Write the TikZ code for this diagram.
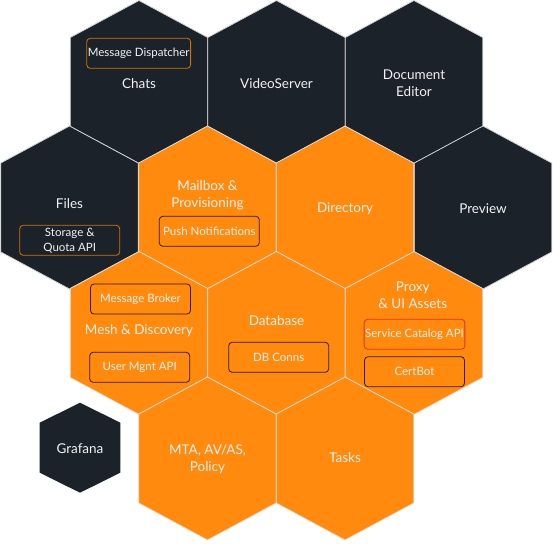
\documentclass[tikz,border=0pt]{standalone}
\usepackage{fontspec}
\setmainfont{Lato}
\definecolor{hexdark}{HTML}{1B2229}
\definecolor{hexorange}{HTML}{FF8A0D}
\definecolor{lineorange}{HTML}{D97100}
\definecolor{linedark}{HTML}{2B1C08}
\definecolor{linered}{HTML}{E5321E}
\tikzset{
	darkcell/.style={fill=hexdark, draw=gray!35, line width=0.8pt},
	orangecell/.style={fill=hexorange, draw=white!88!black, line width=0.8pt},
	lbl/.style={text=white!95!black, font=\fontsize{13.5}{17}\selectfont, align=center},
	svc/.style={rounded corners=3.5pt, minimum width=100pt, minimum height=30pt, inner sep=1pt,
		line width=0.8pt, text=white!95!black, font=\fontsize{11.5}{15}\selectfont, align=center},
	svcd/.style={svc, draw=lineorange, fill=hexdark},
	svco/.style={svc, draw=linedark, fill=hexorange},
	svcr/.style={svc, draw=linered, fill=hexorange},
}

\begin{document}
\begin{tikzpicture}[x=1pt, y=-1pt]
	\useasboundingbox (0,0) rectangle (553,546);

	% dark cells
	\foreach \x/\y in {139/82, 276.5/82, 414/82, 69.5/207.5, 483/207.5}
		\path[darkcell] (\x,\y) ++(0,-81.5) -- ++(68.75,37) -- ++(0,89) -- ++(-68.75,37) -- ++(-68.75,-37) -- ++(0,-89) -- cycle;

	% orange cells
	\foreach \x/\y in {207.5/207.5, 345/207.5, 139/333, 276.5/333, 414/333, 207.5/458.5, 345/458.5}
		\path[orangecell] (\x,\y) ++(0,-81.5) -- ++(68.75,37) -- ++(0,89) -- ++(-68.75,37) -- ++(-68.75,-37) -- ++(0,-89) -- cycle;

	% grafana
	\fill[hexdark] (80,447.7) ++(0,-45) -- ++(40.3,20) -- ++(0,50) -- ++(-40.3,20) -- ++(-40.3,-20) -- ++(0,-50) -- cycle;

	\node[svcd] (dispatch) at (138.7,53.3) {Message Dispatcher};
	\node[lbl] (chats) at (139,83.5) {Chats};
	\node[lbl] (video) at (276.5,83.5) {VideoServer};
	\node[lbl] (doc) at (414,83) {Document\\Editor};

	\node[lbl] (files) at (69.5,204) {Files};
	\node[svcd] (storage) at (69.7,240.3) {Storage \&\\Quota API};
	\node[lbl] (mailbox) at (207.5,195.5) {Mailbox \&\\Provisioning};
	\node[svco] (push) at (209.3,231.3) {Push Notifications};
	\node[lbl] (dir) at (345,209) {Directory};
	\node[lbl] (preview) at (483,209) {Preview};

	\node[svco] (broker) at (140.5,299) {Message Broker};
	\node[lbl] (mesh) at (139,331) {Mesh \& Discovery};
	\node[svco] (usermgnt) at (139.7,367.3) {User Mgnt API};
	\node[lbl] (db) at (276.5,321) {Database};
	\node[svco] (dbconns) at (278.7,357.3) {DB Conns};
	\node[lbl] (proxy) at (412.7,295) {Proxy\\\& UI Assets};
	\node[svcr] (catalog) at (414.5,334.3) {Service Catalog API};
	\node[svco] (certbot) at (414.5,371.7) {CertBot};

	\node[lbl] (grafana) at (80,449) {Grafana};
	\node[lbl] (mta) at (207.5,459) {MTA, AV/AS,\\Policy};
	\node[lbl] (tasks) at (345,458) {Tasks};
\end{tikzpicture}
\end{document}
